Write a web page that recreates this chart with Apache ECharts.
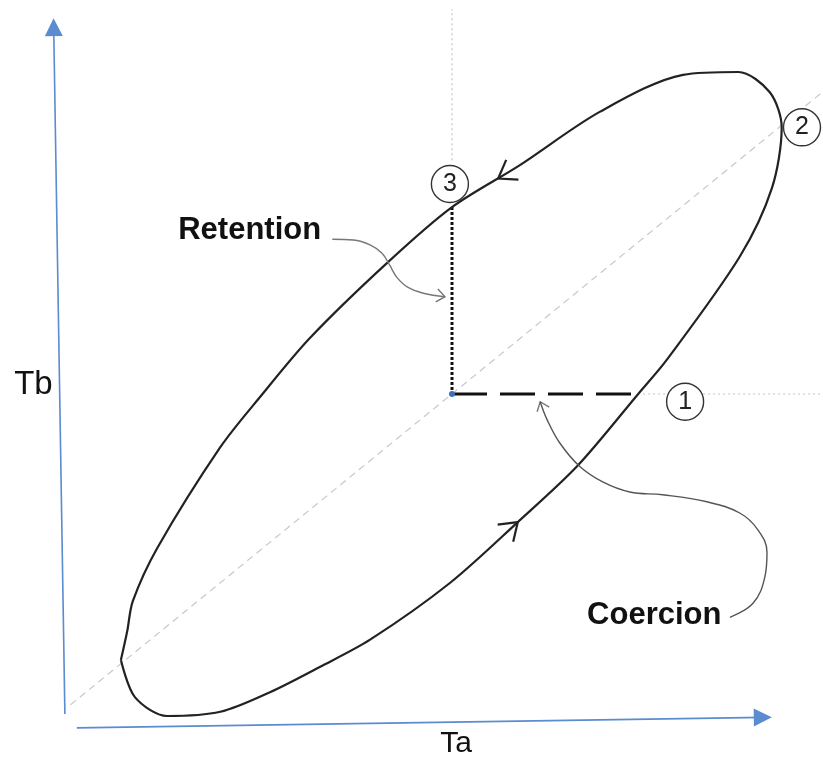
<!DOCTYPE html>
<html>
<head>
<meta charset="utf-8">
<title>Hysteresis loop</title>
<script src="https://cdn.jsdelivr.net/npm/echarts@6/dist/echarts.min.js"></script>
<style>
  html, body { margin: 0; padding: 0; background: #fff; }
  #chart { width: 823px; height: 768px; }
</style>
</head>
<body>
<div id="chart"></div>
<script>
// loop, walked the way the arrows go (lower branch up, upper branch back down)
var loopTa = [8.7, 10.7, 15.3, 22.9, 30.0, 37.1, 44.3, 55.7, 65.4, 73.9, 82.6, 86.7, 97.1, 101.7, 103.1,
              101.4, 96.9, 89.0, 77.1, 65.7, 56.0, 46.7, 35.7, 28.6, 22.9, 13.9, 10.4, 9.6, 8.7];
var loopTb = [10.0, 4.7, 2.0, 2.6, 5.4, 9.0, 12.9, 21.0, 29.7, 37.7, 48.0, 52.9, 67.6, 77.4, 86.1,
              91.1, 94.0, 93.6, 88.3, 80.7, 74.7, 66.7, 56.0, 47.6, 40.4, 26.0, 18.4, 14.1, 10.0];

var centerPoint = [56, 48];
var retentionPoint = [56, 74.7];
var coercionPoint = [82.6, 48];

var circleNames = ['1', '2', '3'];
var circleTa = [89.3, 106, 55.7];
var circleTb = [46.9, 86.1, 78];

// axes: [start, end]
var taAxis = [[2.4, 0.3], [100.4, 1.8]];
var tbAxis = [[0.7, 2.3], [-0.9, 100.4]];

var diagonalLine = [[1.5, 3.6], [109, 91.2]];
var guideUp = [[56, 81.4], [56, 103]];
var guideRight = [[83.3, 48], [109, 48]];

var retentionCurveTa = [38.9, 41.9, 44.3, 46.0, 47.1, 48.1, 49.6, 51.9, 55.0];
var retentionCurveTb = [70.1, 70.0, 69.3, 68.1, 66.4, 64.7, 63.3, 62.4, 61.9];
var coercionCurveTa = [95.7, 99.0, 100.7, 101.0, 99.7, 97.1, 92.4, 86.1, 81.4, 77.6, 74.3, 71.4, 69.6, 68.6];
var coercionCurveTb = [16.1, 18.1, 21.9, 25.4, 28.6, 31.0, 32.6, 33.6, 34.0, 35.4, 37.6, 41.0, 44.3, 46.9];

// direction arrows on the loop: [segment index, fraction along it]
var loopArrowAt = [[7, 1.0], [19, 0.32]];

var labelNames = ['Tb', 'Ta', 'Retention', 'Coercion'];
var labelTa = [-3.8, 56.6, 27.1, 84.9];
var labelTb = [49.3, -1.9, 71.3, 16.3];
var labelBold = [false, false, true, true];

function zip(a, b) {
  return a.map(function (v, i) { return [v, b[i]]; });
}

// open "V" arrowhead ending at tip, pointing along dir
function chevron(tip, dir, len, deg) {
  var n = Math.sqrt(dir[0] * dir[0] + dir[1] * dir[1]);
  var ux = dir[0] / n, uy = dir[1] / n;
  var a = deg * Math.PI / 180;
  function arm(s) {
    var c = Math.cos(s * a), si = Math.sin(s * a);
    var rx = ux * c - uy * si, ry = ux * si + uy * c;
    return [tip[0] - rx * len, tip[1] - ry * len];
  }
  return [arm(1), tip, arm(-1)];
}

var loop = zip(loopTa, loopTb);
var loopArrows = loopArrowAt.map(function (p) {
  var a = loop[p[0]], b = loop[p[0] + 1];
  var tip = [a[0] + (b[0] - a[0]) * p[1], a[1] + (b[1] - a[1]) * p[1]];
  return { coords: chevron(tip, [b[0] - a[0], b[1] - a[1]], 2.9, 35) };
});

var retentionCurve = zip(retentionCurveTa, retentionCurveTb);
var coercionCurve = zip(coercionCurveTa, coercionCurveTb);
function curveHead(c) {
  var a = c[c.length - 2], b = c[c.length - 1];
  return { coords: chevron(b, [b[0] - a[0], b[1] - a[1]], 1.5, 38) };
}

var chart = echarts.init(document.getElementById('chart'));
var option = {
  animation: false,
  backgroundColor: '#fff',
  grid: { left: 4, top: 2, width: 819, height: 763, outerBoundsMode: 'none' },
  xAxis: { type: 'value', min: -8, max: 109, show: false },
  yAxis: { type: 'value', min: -5, max: 104, show: false },
  series: [
    {
      name: 'diagonal', type: 'line', data: diagonalLine, symbol: 'none', z: 1,
      lineStyle: { color: '#c8c8c8', width: 1.2, type: [7, 5] }
    },
    {
      name: 'guides', type: 'line', data: guideUp, symbol: 'none', z: 1,
      lineStyle: { color: '#c4c4c4', width: 1.2, type: [2, 3] }
    },
    {
      name: 'guides2', type: 'line', data: guideRight, symbol: 'none', z: 1,
      lineStyle: { color: '#c4c4c4', width: 1.2, type: [2, 3] }
    },
    {
      name: 'axes', type: 'lines', coordinateSystem: 'cartesian2d', z: 2,
      symbol: ['none', 'triangle'], symbolSize: 18,
      lineStyle: { color: '#5b8bd0', width: 1.6, opacity: 1, curveness: 0 },
      data: [{ coords: taAxis }, { coords: tbAxis }]
    },
    {
      name: 'numbers', type: 'scatter', z: 3,
      data: circleNames.map(function (n, i) { return [circleTa[i], circleTb[i], n]; }),
      symbol: 'circle', symbolSize: 37,
      itemStyle: { color: '#fff', borderColor: '#333', borderWidth: 1.4, opacity: 1 },
      label: {
        show: true, position: 'inside', color: '#222', fontSize: 25,
        fontFamily: 'Liberation Sans',
        formatter: function (p) { return p.data[2]; }
      }
    },
    {
      name: 'retention', type: 'line', data: [retentionPoint, centerPoint], symbol: 'none', z: 4,
      lineStyle: { color: '#111', width: 3, type: [3, 2] }
    },
    {
      name: 'coercion', type: 'line', data: [centerPoint, coercionPoint], symbol: 'none', z: 4,
      lineStyle: { color: '#111', width: 3, type: [35, 13] }
    },
    {
      name: 'loop', type: 'line', data: loop, symbol: 'none', smooth: 0.3, z: 5,
      lineStyle: { color: '#222', width: 2.2 }
    },
    {
      name: 'loopArrows', type: 'lines', coordinateSystem: 'cartesian2d', polyline: true, z: 5,
      lineStyle: { color: '#222', width: 2.2, opacity: 1 },
      data: loopArrows
    },
    {
      name: 'pointers', type: 'line', smooth: 0.4, symbol: 'none', z: 5,
      data: retentionCurve,
      lineStyle: { color: '#777', width: 1.4 }
    },
    {
      name: 'pointers2', type: 'line', smooth: 0.4, symbol: 'none', z: 5,
      data: coercionCurve,
      lineStyle: { color: '#555', width: 1.4 }
    },
    {
      name: 'pointerHeads', type: 'lines', coordinateSystem: 'cartesian2d', polyline: true, z: 5,
      lineStyle: { color: '#777', width: 1.4, opacity: 1 },
      data: [curveHead(retentionCurve), curveHead(coercionCurve)]
    },
    {
      name: 'center', type: 'scatter', data: [centerPoint], symbolSize: 6, z: 6,
      itemStyle: { color: '#3f6fb8', opacity: 1 }
    },
    {
      name: 'labels', type: 'scatter', symbolSize: 1, z: 7,
      itemStyle: { color: 'rgba(0,0,0,0)', opacity: 1 },
      data: labelNames.map(function (n, i) {
        return {
          value: [labelTa[i], labelTb[i], n],
          label: {
            fontWeight: labelBold[i] ? 'bold' : 'normal',
            fontSize: labelBold[i] ? 31 : (i === 0 ? 33 : 30)
          }
        };
      }),
      label: {
        show: true, position: 'inside', color: '#111',
        fontFamily: 'Liberation Sans',
        formatter: function (p) { return p.data.value[2]; }
      }
    }
  ]
};
option && chart.setOption(option);
</script>
</body>
</html>
